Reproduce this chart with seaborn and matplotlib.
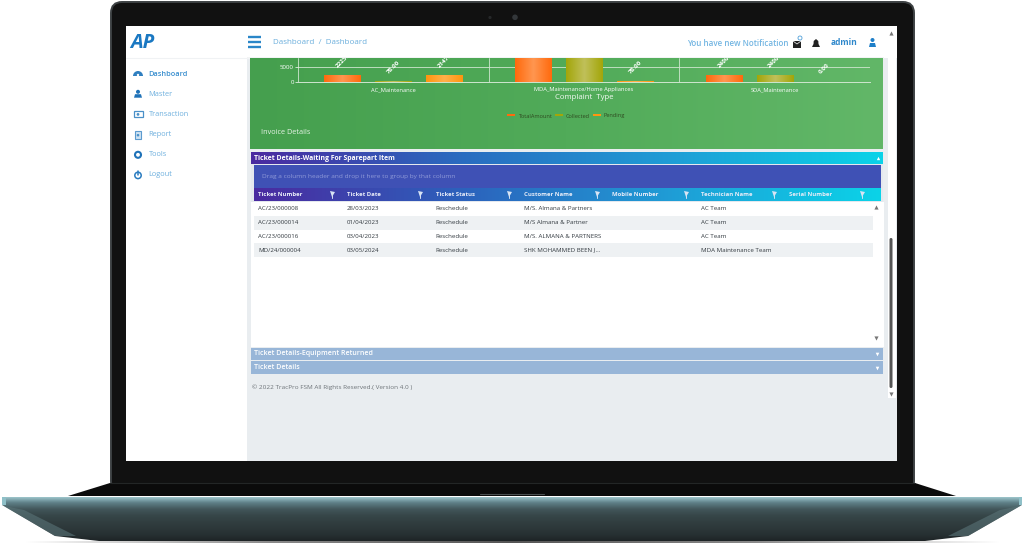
import numpy as np
import pandas as pd
import matplotlib
matplotlib.use('Agg')
import matplotlib.pyplot as plt
import seaborn as sns
from matplotlib.patches import Rectangle, Polygon, FancyBboxPatch, Circle, Wedge
from matplotlib.colors import LinearSegmentedColormap, to_hex

# chart values
COMPLAINT_TYPES = ['AC_Maintenance', 'MDA_Maintenance/Home Appliances', 'SDA_Maintenance']
TOTAL_AMOUNT = [2225, 18000, 2400]
COLLECTED = [78, 17900, 2400]
PENDING = [2147, 78, 0]
BAR_LABELS = ['2225.00', '78.00', '2147.00', '18000.00', '17900.00', '78.00', '2400.00', '2400.00', '0.00']
SERIES = ['TotalAmount', 'Collected', 'Pending']
Y_TICKS = [0, 5000]

# ticket table
COLUMNS = ['Ticket Number', 'Ticket Date', 'Ticket Status', 'Customer Name',
           'Mobile Number', 'Technician Name', 'Serial Number']
TICKET_NUMBERS = ['AC/23/000008', 'AC/23/000014', 'AC/23/000016', 'MD/24/000004']
TICKET_DATES = ['28/03/2023', '01/04/2023', '03/04/2023', '03/05/2024']
TICKET_STATUS = ['Reschedule', 'Reschedule', 'Reschedule', 'Reschedule']
CUSTOMERS = ['M/S. Almana & Partners', 'M/S Almana & Partner', 'M/S. ALMANA & PARTNERS', 'SHK MOHAMMED BEEN J...']
TECHNICIANS = ['AC Team', 'AC Team', 'AC Team', 'MDA Maintenance Team']

MENU_ITEMS = ['Dashboard', 'Master', 'Transaction', 'Report', 'Tools', 'Logout']

W, H = 1024, 545

sns.set_theme(style='white')
plt.rcParams['font.family'] = ['Open Sans', 'DejaVu Sans']
plt.rcParams['patch.edgecolor'] = 'none'

fig = plt.figure(figsize=(W / 100, H / 100), dpi=100, facecolor='white')
base = fig.add_axes([0, 0, 1, 1])
base.set_xlim(0, W)
base.set_ylim(H, 0)
base.axis('off')
base.set_autoscale_on(False)


def gradient(ax, box, colors, vertical=False, clip=None, zorder=2):
    x0, y0, x1, y1 = box
    cmap = LinearSegmentedColormap.from_list('g', colors)
    ramp = np.linspace(0, 1, 256).reshape(-1, 1) if vertical else np.linspace(0, 1, 256).reshape(1, -1)
    im = ax.imshow(ramp, cmap=cmap, extent=(x0, x1, y1, y0), aspect='auto',
                   origin='upper', zorder=zorder, interpolation='bilinear')
    if clip is not None:
        clip.set_transform(ax.transData)
        im.set_clip_path(clip)
    return im


def rect(x0, y0, x1, y1, color, zorder=2, **kw):
    base.add_patch(Rectangle((x0, y0), x1 - x0, y1 - y0, facecolor=color, edgecolor='none', zorder=zorder, **kw))


def menu_icon(i, y):
    # small hand drawn versions of the side menu icons
    x = 138
    col = '#2f7fc0'
    if i == 0:
        base.add_patch(Wedge((x, y + 2), 5, 180, 360, facecolor=col, zorder=4))
        base.add_patch(Circle((x, y + 1), 1.2, facecolor='white', zorder=5))
    elif i == 1:
        base.add_patch(Circle((x, y - 2.4), 2, facecolor='#1f72b8', zorder=4))
        base.add_patch(Polygon([(x - 4, y + 3.5), (x + 4, y + 3.5), (x + 3, y), (x - 3, y)], facecolor='#1f72b8', zorder=4))
    elif i == 2:
        base.add_patch(Rectangle((x - 4.5, y - 3), 9, 6, facecolor='white', edgecolor='#4a90c8', lw=0.9, zorder=4))
        base.add_patch(Circle((x, y), 1.4, facecolor='#4a90c8', zorder=5))
    elif i == 3:
        base.add_patch(Rectangle((x - 3.2, y - 4), 6.4, 8, facecolor='#cfe2f2', edgecolor='#5c9bcf', lw=0.8, zorder=4))
        base.add_patch(Circle((x, y + 0.6), 1.3, facecolor='#4a90c8', zorder=5))
    elif i == 4:
        base.add_patch(Circle((x, y), 3, facecolor='white', edgecolor='#1f72b8', lw=1.5, zorder=4))
    else:
        base.add_patch(Circle((x, y + 0.4), 3.2, facecolor='white', edgecolor='#2a7cc0', lw=1.1, zorder=4))
        base.plot([x, x], [y - 3.6, y], color='#2a7cc0', lw=1.1, zorder=5)


# laptop lid and hinge
base.add_patch(FancyBboxPatch((111, 2), 803, 490, boxstyle='round,pad=0,rounding_size=11',
                              facecolor='#111111', edgecolor='#3d4143', linewidth=1.4, zorder=1))
base.add_patch(Polygon([(110, 483), (915, 483), (956, 496), (68, 496)], facecolor='#0b0b0b', edgecolor='none', zorder=1))
base.plot([110, 915], [483, 483], color='#232626', lw=0.8, zorder=2)

# webcam
base.add_patch(Circle((515, 17.3), 2.8, facecolor='#33373a', edgecolor='none', zorder=2))
base.add_patch(Circle((490, 17.5), 1.6, facecolor='#26282a', edgecolor='none', zorder=2))

# laptop base
base_shape = Polygon([(2, 497), (1022, 497), (1022, 505), (968, 536), (925, 541), (99, 541), (55, 536), (2, 505)],
                     closed=True, facecolor='none', edgecolor='none')
base.add_patch(base_shape)
gradient(base, (0, 496, W, 542), ['#a8d2d8', '#5f8088', '#42565a', '#364648', '#313e40', '#2c3739', '#262f31', '#1c2223'],
         vertical=True, clip=base_shape)
base.add_patch(Polygon([(4, 506), (55, 536), (76, 536), (24, 510)], facecolor='#5a7478', alpha=0.6, edgecolor='none', zorder=3))
base.add_patch(Polygon([(1020, 506), (968, 536), (948, 536), (1000, 510)], facecolor='#5a7478', alpha=0.6, edgecolor='none', zorder=3))
rect(2, 497, 5.5, 505, '#8fc0c8', zorder=3)
rect(1018.5, 497, 1022, 505, '#8fc0c8', zorder=3)
gradient(base, (25, 541.5, 512, 543.5), ['#ffffff', '#8a8a8a', '#555555'], zorder=1)
gradient(base, (512, 541.5, 1000, 543.5), ['#555555', '#8a8a8a', '#ffffff'], zorder=1)
base.plot([480, 544], [494, 494], color='#4a4f50', lw=0.8, zorder=3)

# screen
rect(126, 26, 897, 461, 'white')
rect(247, 58, 897, 461, '#e9edf0')
rect(888, 26, 896, 398, 'white', zorder=3)
rect(247, 57, 884, 59, '#f2f4f5', zorder=2)
base.plot([126, 247], [58, 58], color='#f0f2f4', lw=0.8, zorder=3)

# top bar
base.text(130, 43.5, 'AP', color='#1a78c2', fontsize=14.5, fontweight='bold', style='italic', va='center', zorder=5)
for y in [37, 42, 47]:
    base.plot([248, 261], [y, y], color='#2a86c8', lw=1.7, solid_capstyle='butt', zorder=4)
base.text(273, 42, 'Dashboard  /  Dashboard', color='#6aaedc', fontsize=5.75, va='center', zorder=4)
base.text(687, 43, 'You have new Notification', color='#72b5e2', fontsize=5.8, fontweight='semibold', va='center', zorder=4)
base.text(831, 42.5, 'admin', color='#2d87cb', fontsize=6, fontweight='bold', va='center', zorder=4)
rect(793, 41, 801, 48, '#222222', zorder=4)
base.plot([793, 797, 801], [41, 44, 41], color='white', lw=0.5, zorder=5)
base.add_patch(Circle((800, 38), 2, facecolor='none', edgecolor='#4f9fd8', lw=0.6, zorder=5))
base.add_patch(Polygon([(812, 47), (820, 47), (818.5, 44), (818.3, 41), (816, 39), (813.7, 41), (813.5, 44)],
                       facecolor='#222222', edgecolor='none', zorder=4))
base.add_patch(Circle((872.5, 40), 2, facecolor='#1f7fc8', zorder=4))
base.add_patch(Polygon([(869, 47), (876, 47), (875, 43), (870, 43)], facecolor='#1f7fc8', zorder=4))
base.plot([891], [33], marker='^', ms=3, color='#777777', mew=0, zorder=5)

# side menu
for i, item in enumerate(MENU_ITEMS):
    y = 74 + i * 20.2
    weight = 'semibold' if i == 0 else 'normal'
    col = '#3a8fcf' if i == 0 else '#6fb0de'
    base.text(148.5, y, item, color=col, fontsize=5.3, fontweight=weight, va='center', zorder=4)
    menu_icon(i, y)

# green panel that holds the chart
gradient(base, (250, 58, 883, 149), ['#459f4e', '#51ab59', '#62b768'])
base.text(261, 132.5, 'Invoice Details', color='#e8f4e8', fontsize=5.2, va='center', zorder=4)

# bar chart, clipped by the top bar of the page like on the screen
ax = fig.add_axes([298 / W, 1 - 81.7 / H, 572 / W, 23.7 / H], facecolor='none')
df = pd.DataFrame({
    'Complaint': np.repeat(COMPLAINT_TYPES, 3),
    'Series': SERIES * 3,
    'Amount': np.ravel(np.column_stack([TOTAL_AMOUNT, COLLECTED, PENDING])),
})
series_colors = {'TotalAmount': '#ff6a0d', 'Collected': '#a3a60a', 'Pending': '#ff960f'}
sns.barplot(data=df, x='Complaint', y='Amount', hue='Series', hue_order=SERIES, order=COMPLAINT_TYPES,
            palette=series_colors, width=0.8, gap=0.29, saturation=1, ax=ax, errorbar=None, linewidth=0)
ax.set_xlim(-0.5, 2.5)
ax.set_ylim(0, 8230)

highlight = {'#ff6a0d': '#ff9650', '#a3a60a': '#c0c05a', '#ff960f': '#ffb04a'}
ordered = sorted([b for b in ax.patches if b.get_width() > 0], key=lambda b: b.get_x())
bars = []
for bar in ordered:
    x0, w, h = bar.get_x(), bar.get_width(), bar.get_height()
    color = to_hex(bar.get_facecolor())
    cmap = LinearSegmentedColormap.from_list('b', [color, highlight[color], color])
    if h > 0:
        ax.imshow(np.linspace(0, 1, 64).reshape(1, -1), cmap=cmap, extent=(x0, x0 + w, 0, h),
                  aspect='auto', zorder=bar.get_zorder() + 1)
    bars.append((x0 + w / 2, h))
ax.set_xlim(-0.5, 2.5)
ax.set_ylim(0, 8230)

for (cx, h), label in zip(bars, BAR_LABELS):
    ax.annotate(label, xy=(cx, h), xytext=(-4, 6), textcoords='offset points', color='white', fontsize=4.5,
                fontweight='bold', rotation=45, rotation_mode='anchor', ha='left', va='center',
                clip_on=True, zorder=6)

ax.set_axisbelow(True)
ax.set_xticks([-0.5, 0.5, 1.5, 2.5], minor=True)
ax.xaxis.grid(True, which='minor', color='#cfe6cf', lw=0.6)
ax.yaxis.grid(True, color='#cfe6cf', lw=0.6)
ax.set_yticks(Y_TICKS, [str(v) for v in Y_TICKS])
ax.tick_params(axis='y', colors='white', labelsize=4.4, length=2, width=0.5, pad=1, left=True)
ax.tick_params(axis='x', which='major', colors='white', labelsize=4.15, length=0, pad=4)
ax.tick_params(axis='x', which='minor', length=0)
ax.set_xlabel('Complaint  Type', color='#f4faf4', fontsize=5.55, labelpad=1.2)
ax.set_ylabel('')
for name in ['top', 'right', 'left']:
    ax.spines[name].set_visible(False)
ax.spines['bottom'].set_color('#cfe6cf')
ax.spines['bottom'].set_linewidth(0.7)
sns.move_legend(ax, 'center', bbox_to_anchor=(566 / W, 1 - 116 / H), bbox_transform=fig.transFigure,
                ncol=3, title=None, frameon=False, fontsize=4.1, handlelength=1.4, handleheight=0.18,
                columnspacing=0.6, handletextpad=0.5, labelcolor='#2f4a20')

# waiting for sparepart grid
gradient(base, (251, 152, 883, 164), ['#4a2aa0', '#2a6cc0', '#1f9dd6', '#0bd3e8'])
base.text(253.5, 158, 'Ticket Details-Waiting For Sparepart Item', color='white', fontsize=4.95, fontweight='bold',
          va='center', zorder=4)
base.plot([878], [158], marker='^', ms=2.4, color='white', mew=0, zorder=4)
rect(251, 164, 883, 202, '#e4e8ee')
rect(254, 165, 881, 188, '#3f51b5', zorder=3)
base.text(262, 176.5, 'Drag a column header and drop it here to group by that column', color='#8f9ad8',
          fontsize=4.67, va='center', zorder=4)
gradient(base, (254, 189, 881, 201.5), ['#4a2aa0', '#2c62bc', '#1f9dd6', '#0bd3e8'], zorder=3)

col_x = [258, 347, 435.5, 524, 612.5, 701, 789]
filter_x = [332, 420, 509, 597, 686, 774, 862]
for name, x, fx in zip(COLUMNS, col_x, filter_x):
    base.text(x, 194.8, name, color='#e8ecf8', fontsize=4.3, fontweight='bold', va='center', zorder=4)
    base.plot([fx], [193.5], marker='v', ms=3.6, color='#d8e4f4', mew=0, zorder=4)
    base.plot([fx, fx], [193.5, 197.5], color='#d8e4f4', lw=0.7, zorder=4)

rect(251, 202, 884, 347, 'white', zorder=3)
row_y = [208.7, 222.5, 236, 250]
for i, y in enumerate(row_y):
    if i % 2 == 1:
        rect(254, y - 7, 873, y + 7, '#eef1f3', zorder=3)
    for x, values in [(258, TICKET_NUMBERS), (347, TICKET_DATES), (435.5, TICKET_STATUS),
                      (524, CUSTOMERS), (701, TECHNICIANS)]:
        base.text(x, y, values[i], color='#333a40', fontsize=4.45, va='center', zorder=4)
base.plot([876], [207], marker='^', ms=3, color='#777777', mew=0, zorder=4)
base.plot([876], [337.5], marker='v', ms=3, color='#777777', mew=0, zorder=4)

# collapsed panels
for y0, y1, title in [(347.5, 360, 'Ticket Details-Equipment Returned'), (361, 374, 'Ticket Details')]:
    rect(251, y0, 883, y1, '#98b6d8', zorder=3)
    base.text(253.5, (y0 + y1) / 2, title, color='white', fontsize=5.05, fontweight='semibold', va='center', zorder=4)
    base.plot([877], [(y0 + y1) / 2], marker='v', ms=2.6, color='white', mew=0, zorder=4)

base.text(252, 387.5, '© 2022 TracPro FSM All Rights Reserved.( Version 4.0 )', color='#6d7378', fontsize=4.6,
          va='center', zorder=4)

# page scrollbar
base.add_patch(FancyBboxPatch((889.5, 238), 3, 150, boxstyle='round,pad=0,rounding_size=1.5',
                              facecolor='#555555', edgecolor='none', zorder=4))
base.plot([891], [394], marker='v', ms=3, color='#777777', mew=0, zorder=4)

fig.savefig('out.png', dpi=100)
plt.close(fig)
